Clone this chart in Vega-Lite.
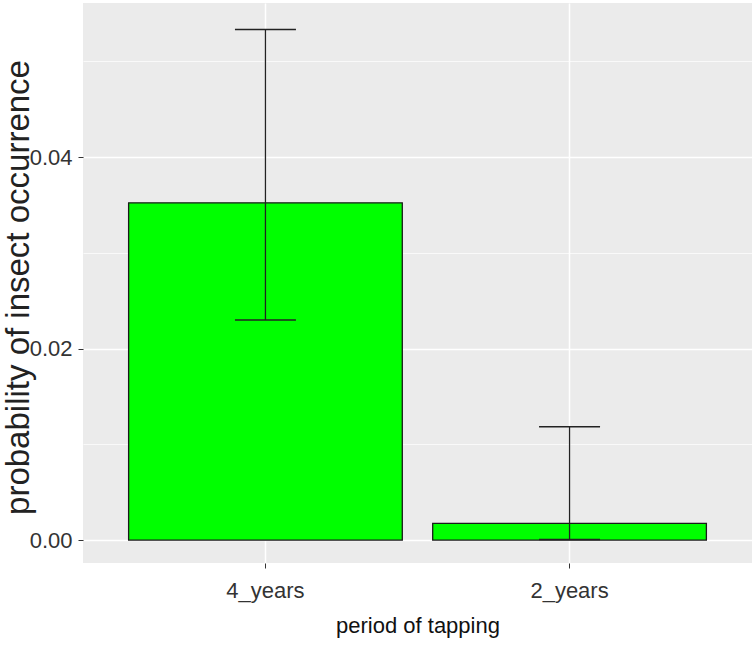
{
  "$schema": "https://vega.github.io/schema/vega-lite/v6.json",
  "width": 669,
  "height": 560,
  "autosize": {"type": "none"},
  "padding": {"left": 83, "top": 3, "right": 0, "bottom": 82},
  "background": "white",
  "config": {
    "view": {"fill": "#EBEBEB", "stroke": null},
    "font": "Liberation Sans"
  },
  "data": {
    "values": [
      {"period": "4_years", "p": 0.03523, "lo": 0.02298, "hi": 0.05334},
      {"period": "2_years", "p": 0.00174, "lo": 0.00005, "hi": 0.01183}
    ]
  },
  "layer": [
    {
      "mark": {"type": "bar", "fill": "#00FF00", "stroke": "#1a1a1a", "strokeWidth": 1.3},
      "encoding": {
        "x": {
          "field": "period", "type": "nominal", "sort": ["4_years", "2_years"],
          "scale": {"paddingInner": 0.1, "paddingOuter": 0.15},
          "axis": {
            "title": "period of tapping", "labelAngle": 0, "labelFontSize": 22, "labelColor": "#333333",
            "labelPadding": 12, "tickSize": 5, "tickColor": "#333333", "domain": false,
            "grid": true, "gridColor": "#FFFFFF", "gridWidth": 1.5,
            "titleFontSize": 22, "titleFontWeight": "normal", "titleColor": "#111111", "titlePadding": 14
          }
        },
        "y": {
          "field": "p", "type": "quantitative",
          "scale": {"domain": [-0.0024, 0.0561], "nice": false, "zero": false},
          "axis": {
            "title": "probability of insect occurrence",
            "values": [0, 0.01, 0.02, 0.03, 0.04, 0.05],
            "labelExpr": "round(datum.value*100) % 2 == 0 ? format(datum.value, '.2f') : ''",
            "labelFontSize": 22, "labelColor": "#333333", "labelPadding": 6,
            "tickSize": 5, "tickColor": "#333333",
            "tickOpacity": {"condition": {"test": "round(datum.value*100) % 2 == 0", "value": 1}, "value": 0},
            "domain": false, "grid": true, "gridColor": "#FFFFFF",
            "gridWidth": {"condition": {"test": "round(datum.value*100) % 2 == 0", "value": 1.6}, "value": 0.7},
            "titleFontSize": 33, "titleFontWeight": "normal", "titleColor": "#222222",
            "titleAngle": -90, "titleX": -65, "titleY": 284, "titleAlign": "center", "titleBaseline": "middle"
          }
        }
      }
    },
    {
      "mark": {"type": "rule", "stroke": "#222222", "strokeWidth": 1.3},
      "encoding": {
        "x": {"field": "period", "type": "nominal", "sort": ["4_years", "2_years"]},
        "y": {"field": "lo", "type": "quantitative"},
        "y2": {"field": "hi"}
      }
    },
    {
      "mark": {"type": "tick", "color": "#222222", "size": 61, "thickness": 1.5, "opacity": 1},
      "encoding": {
        "x": {"field": "period", "type": "nominal", "sort": ["4_years", "2_years"]},
        "y": {"field": "hi", "type": "quantitative"}
      }
    },
    {
      "mark": {"type": "tick", "color": "#222222", "size": 61, "thickness": 1.5, "opacity": 1},
      "encoding": {
        "x": {"field": "period", "type": "nominal", "sort": ["4_years", "2_years"]},
        "y": {"field": "lo", "type": "quantitative"}
      }
    }
  ]
}
